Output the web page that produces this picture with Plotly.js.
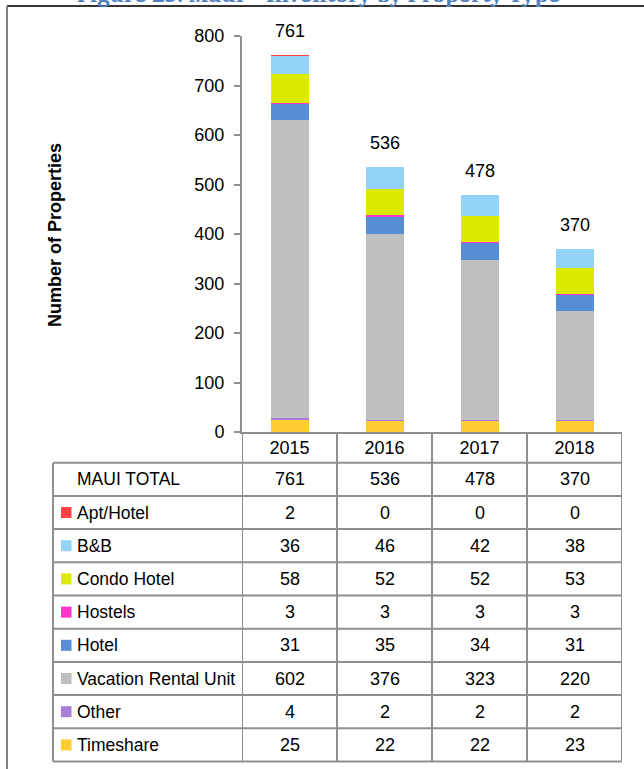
<!DOCTYPE html>
<html>
<head>
<meta charset="utf-8">
<script src="https://cdn.plot.ly/plotly-3.0.1.min.js"></script>
<style>
  html, body { margin: 0; padding: 0; background: #fff; }
  #chart { width: 644px; height: 769px; }
</style>
</head>
<body>
<div id="chart"></div>
<script>
// ---------------- DATA ----------------
const years = ['2015', '2016', '2017', '2018'];
const totals = [761, 536, 478, 370];
const totalLabel = 'MAUI TOTAL';

// series listed top of table -> bottom
const seriesNames = ['Apt/Hotel', 'B&B', 'Condo Hotel', 'Hostels', 'Hotel', 'Vacation Rental Unit', 'Other', 'Timeshare'];
const aptHotel   = [2, 0, 0, 0];
const bnb        = [36, 46, 42, 38];
const condoHotel = [58, 52, 52, 53];
const hostels    = [3, 3, 3, 3];
const hotel      = [31, 35, 34, 31];
const vacRental  = [602, 376, 323, 220];
const other      = [4, 2, 2, 2];
const timeshare  = [25, 22, 22, 23];
const seriesValues = [aptHotel, bnb, condoHotel, hostels, hotel, vacRental, other, timeshare];
const seriesColors = ['#FF4343', '#93D3F7', '#DCE900', '#FF33CC', '#558ED5', '#BFBFBF', '#A97DDB', '#FFCC33'];

const figTitle = 'Figure 23: Maui \u2013 Inventory by Property Type';
const yTitle = 'Number of Properties';

// ---------------- LAYOUT GEOMETRY ----------------
const W = 644, H = 769;
const M = { l: 242, r: 22, t: 36, b: 337 };
const PW = W - M.l - M.r, PH = H - M.t - M.b;
const px2x = px => (px - M.l) / PW;
const px2y = py => (H - M.b - py) / PH;

const FONT = "'Liberation Sans Narrow', 'Arial Narrow', 'Liberation Sans', Arial, sans-serif";
const FS = 18;
const FS_LABEL = 17.5;
const GRID = '#8f8f8f';

// ---------------- TRACES ----------------
const traces = [];
for (let i = seriesNames.length - 1; i >= 0; i--) {
  traces.push({
    type: 'bar',
    name: seriesNames[i],
    x: years,
    y: seriesValues[i],
    marker: { color: seriesColors[i], line: { width: 0 } },
    hoverinfo: 'skip'
  });
}

// ---------------- TABLE ----------------
const tableTop = 462.7, rowH = 33.2;
const rowLabels = [totalLabel].concat(seriesNames);
const rowValues = [totals].concat(seriesValues);
const nRows = rowLabels.length;
const tableBottom = tableTop + nRows * rowH;
const tableLeft = 53;

const shapes = [];
const annotations = [];

// horizontal grid lines
for (let k = 0; k <= nRows; k++) {
  const y = px2y(tableTop + k * rowH);
  shapes.push({ type: 'line', xref: 'paper', yref: 'paper', x0: px2x(tableLeft), x1: 1, y0: y, y1: y,
    line: { color: GRID, width: 2 } });
}
// left edge of label column
shapes.push({ type: 'line', xref: 'paper', yref: 'paper', x0: px2x(tableLeft), x1: px2x(tableLeft),
  y0: px2y(tableTop), y1: px2y(tableBottom), line: { color: GRID, width: 2 } });
// category boundaries
for (let j = 0; j <= years.length; j++) {
  shapes.push({ type: 'line', xref: 'x', yref: 'paper', x0: j - 0.5, x1: j - 0.5,
    y0: 0, y1: px2y(tableBottom), line: { color: GRID, width: 2 } });
}

// row labels, legend keys and values
for (let r = 0; r < nRows; r++) {
  const yc = px2y(tableTop + (r + 0.5) * rowH);
  annotations.push({ xref: 'paper', yref: 'paper', x: px2x(74.5), y: yc, xanchor: 'left', yanchor: 'middle',
    text: rowLabels[r], showarrow: false, font: { family: FONT, size: FS_LABEL, color: '#000' } });
  if (r > 0) {
    const c = seriesColors[r - 1];
    shapes.push({ type: 'rect', xref: 'paper', yref: 'paper',
      x0: px2x(61), x1: px2x(71.5), y0: px2y(tableTop + (r + 0.5) * rowH - 5.5), y1: px2y(tableTop + (r + 0.5) * rowH + 5.5),
      fillcolor: c, line: { width: 0 } });
  }
  for (let j = 0; j < years.length; j++) {
    annotations.push({ xref: 'x', yref: 'paper', x: j, y: yc, xanchor: 'center', yanchor: 'middle',
      text: String(rowValues[r][j]), showarrow: false, font: { family: FONT, size: FS, color: '#000' } });
  }
}

// total labels above bars
for (let j = 0; j < years.length; j++) {
  annotations.push({ xref: 'x', yref: 'y', x: j, y: totals[j], yanchor: 'middle', yshift: 24,
    text: String(totals[j]), showarrow: false, font: { family: FONT, size: FS, color: '#000' } });
}

// y axis title
annotations.push({ xref: 'paper', yref: 'paper', x: px2x(55), y: px2y(235), textangle: -90,
  xanchor: 'center', yanchor: 'middle', text: '<b>' + yTitle + '</b>', showarrow: false,
  font: { family: FONT, size: FS, color: '#000' } });

// clipped figure title at the very top
annotations.push({ xref: 'paper', yref: 'paper', x: px2x(319), y: px2y(-6.5), xanchor: 'center', yanchor: 'middle',
  text: '<b>' + figTitle + '</b>', showarrow: false,
  font: { family: "Cambria, 'Liberation Serif', 'DejaVu Serif', serif", size: 24, color: '#4F81BD' } });

// outer frame (top and left)
shapes.push({ type: 'line', xref: 'paper', yref: 'paper', x0: px2x(7), x1: px2x(W + 5), y0: px2y(6), y1: px2y(6),
  line: { color: '#333', width: 2 } });
shapes.push({ type: 'line', xref: 'paper', yref: 'paper', x0: px2x(7), x1: px2x(7), y0: px2y(6), y1: px2y(H + 5),
  line: { color: '#7f7f7f', width: 2 } });

const layout = {
  width: W, height: H,
  margin: { l: M.l, r: M.r, t: M.t, b: M.b, pad: 0 },
  paper_bgcolor: '#fff', plot_bgcolor: '#fff',
  barmode: 'stack', bargap: 0.6,
  showlegend: false, hovermode: false,
  font: { family: FONT, size: FS, color: '#000' },
  xaxis: {
    type: 'category', range: [-0.5, years.length - 0.5], autorange: false,
    showline: true, linecolor: GRID, linewidth: 2,
    ticks: '', showgrid: false, zeroline: false,
    tickfont: { family: FONT, size: FS, color: '#000' }, ticklabelstandoff: -2
  },
  yaxis: {
    range: [0, 800], autorange: false, dtick: 100, tick0: 0, showline: true, linecolor: GRID, linewidth: 2,
    ticks: 'outside', ticklen: 6, tickwidth: 2, tickcolor: GRID,
    showgrid: false, zeroline: false, ticklabelstandoff: 6,
    tickfont: { family: FONT, size: FS, color: '#000' }
  },
  shapes: shapes,
  annotations: annotations
};

Plotly.newPlot('chart', traces, layout, { displayModeBar: false, staticPlot: true });
</script>
</body>
</html>
